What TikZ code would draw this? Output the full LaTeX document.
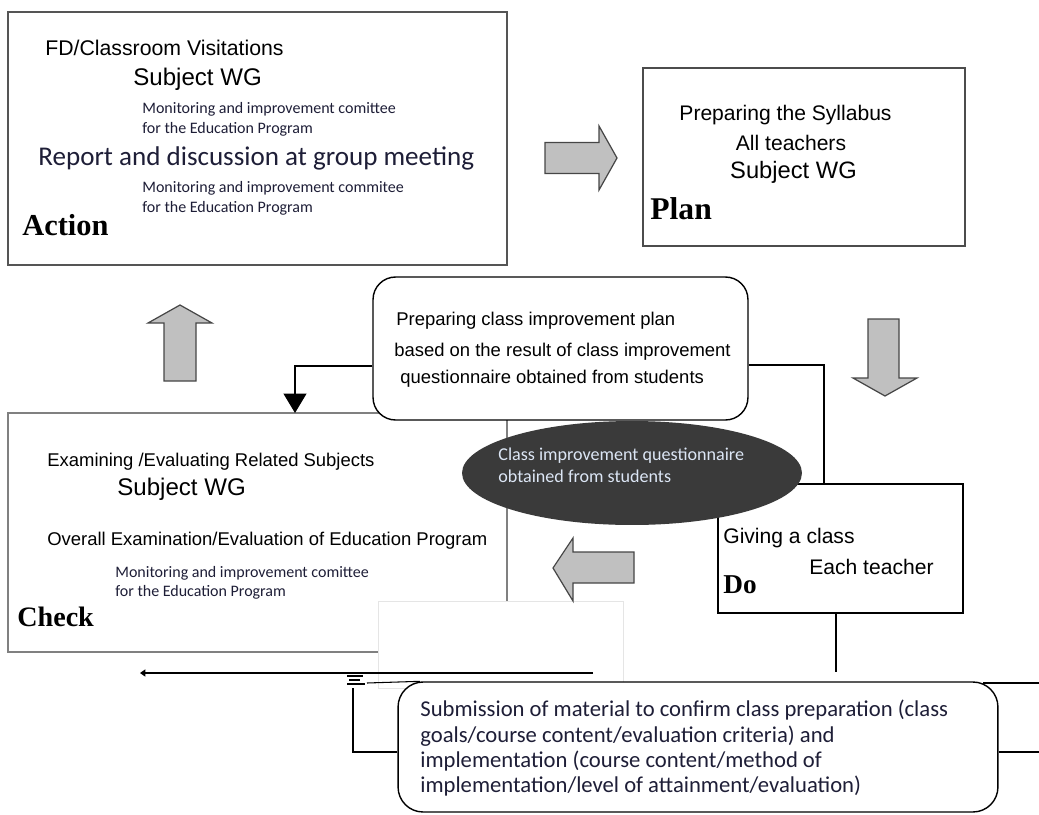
\documentclass[tikz,border=0pt]{standalone}
\usepackage{fontspec}
\setmainfont{Liberation Sans}
\newfontfamily\calfont{Carlito}
\newfontfamily\labfont{Liberation Serif}
\usetikzlibrary{arrows.meta,shapes.geometric}

\definecolor{framegray}{RGB}{85,85,85}
\definecolor{arrowfill}{RGB}{192,192,192}
\definecolor{arrowline}{RGB}{70,70,70}
\definecolor{navytext}{RGB}{30,30,55}
\definecolor{ovalfill}{RGB}{58,58,58}
\definecolor{ovaltext}{RGB}{220,230,245}

\begin{document}
\begin{tikzpicture}[x=0.02cm,y=-0.02cm,
    phase_box/.style={draw=framegray,line width=1.1pt,fill=white,inner sep=0},
    round_box/.style={draw=black,line width=0.8pt,fill=white,rounded corners=0.45cm,inner sep=0},
    oval/.style={ellipse,fill=ovalfill,inner sep=0},
    block_arrow/.style={draw=arrowline,line width=0.7pt,fill=arrowfill},
    link/.style={black,line width=0.6pt},
    phase_label/.style={font=\labfont\bfseries\fontsize{16}{16}\selectfont,anchor=base west,inner sep=0},
    plain_text/.style={font=\fontsize{10.5}{12}\selectfont,anchor=base west,inner sep=0},
    group_text/.style={font=\fontsize{13.7}{15}\selectfont,anchor=base west,inner sep=0},
    small_note/.style={font=\calfont\fontsize{9.1}{11.3}\selectfont,text=navytext,anchor=base west,inner sep=0}]
  \useasboundingbox (0,0) rectangle (1039,815);

  % four phase boxes
  \node[phase_box,minimum width=9.98cm,minimum height=5.06cm] (action) at (257.5,138.5) {};
  \node[phase_box,draw=black!70,minimum width=6.44cm,minimum height=3.56cm] (plan) at (804,157) {};
  \node[phase_box,draw=black!50,minimum width=9.98cm,minimum height=4.78cm] (check) at (257.5,532.5) {};
  \node[phase_box,draw=black,line width=0.8pt,minimum width=4.9cm,minimum height=2.58cm] (do) at (840.5,548.5) {};
  \node[fill=white,draw=black!10,line width=0.5pt,minimum width=4.9cm,minimum height=1.74cm] (panel) at (500.5,644.5) {};

  % Action
  \node[plain_text,font=\fontsize{12.1}{13}\selectfont] (fd) at (45,55) {FD/Classroom Visitations};
  \node[group_text] (wg1) at (133,85) {Subject WG};
  \node[small_note] (mon1) at (142,113) {Monitoring and improvement comittee};
  \node[small_note] (prog1) at (142,133) {for the Education Program};
  \node[anchor=base west,inner sep=0,text=navytext,font=\calfont\fontsize{15.4}{17}\selectfont] (report) at (38,165) {Report and discussion at group meeting};
  \node[small_note] (mon2) at (142,192) {Monitoring and improvement commitee};
  \node[small_note] (prog2) at (142,212) {for the Education Program};
  \node[phase_label,font=\labfont\bfseries\fontsize{17.3}{17}\selectfont] (lact) at (22,235) {Action};

  % Plan
  \node[plain_text,font=\fontsize{12}{13}\selectfont,anchor=base] (syl) at (785.5,120) {Preparing the Syllabus};
  \node[plain_text,font=\fontsize{12}{13}\selectfont,anchor=base] (allt) at (791,150) {All teachers};
  \node[group_text,font=\fontsize{13.5}{15}\selectfont,anchor=base] (wg2) at (793.5,178) {Subject WG};
  \node[phase_label,font=\labfont\bfseries\fontsize{18}{18}\selectfont] (lplan) at (650,219) {Plan};

  % Check
  \node[plain_text] (exam) at (47,466) {Examining /Evaluating Related Subjects};
  \node[group_text] (wg3) at (117,495) {Subject WG};
  \node[plain_text] (overall) at (47,545) {Overall Examination/Evaluation of Education Program};
  \node[small_note] (mon3) at (115,577) {Monitoring and improvement comittee};
  \node[small_note] (prog3) at (115,596) {for the Education Program};
  \node[phase_label] (lchk) at (17,626) {Check};

  % block arrows
  \draw[block_arrow] (545,142.5) -- (599,142.5) -- (599,126) -- (617,158) -- (599,190) -- (599,173.5) -- (545,173.5) -- cycle;
  \draw[block_arrow] (868,319) -- (899,319) -- (899,378) -- (917,378) -- (885,396) -- (853,378) -- (868,378) -- cycle;
  \draw[block_arrow] (634,552) -- (573,552) -- (573,538) -- (553,568) -- (573,601) -- (573,583) -- (634,583) -- cycle;
  \draw[block_arrow] (164,381) -- (164,323) -- (148,323) -- (180,305) -- (212,323) -- (196,323) -- (196,381) -- cycle;

  % class improvement plan
  \node[round_box,minimum width=7.5cm,minimum height=2.86cm] (improve) at (560.5,348.5) {};
  \node[plain_text] (imp1) at (396,325) {Preparing class improvement plan};
  \node[plain_text] (imp2) at (394,356) {based on the result of class improvement};
  \node[plain_text] (imp3) at (400,383) {questionnaire obtained from students};
  \coordinate (chk in) at (295,413);
  \coordinate (do in) at (824,484);
  \draw[link,-{Triangle[length=11pt,width=13pt]}] (improve.west) ++(0,17.5) -| (chk in);
  \draw[link] (improve.east) ++(0,16.5) -| (do in);

  % Do
  \node[plain_text,font=\fontsize{12}{13}\selectfont] (give) at (723,543) {Giving a class};
  \node[plain_text,font=\fontsize{12}{13}\selectfont] (each) at (809,574) {Each teacher};
  \node[phase_label,font=\labfont\bfseries\fontsize{15.5}{16}\selectfont] (ldo) at (723,593) {Do};

  % questionnaire
  \node[oval,minimum width=6.8cm,minimum height=2.08cm] (quest) at (632,473) {};
  \node[small_note,text=ovaltext,font=\calfont\fontsize{10.3}{12}\selectfont] (q1) at (498,460) {Class improvement questionnaire};
  \node[small_note,text=ovaltext,font=\calfont\fontsize{10.3}{12}\selectfont] (q2) at (498,482) {obtained from students};

  % submission of material
  \coordinate (do out) at (836,672);
  \coordinate (ret a) at (593,673);
  \coordinate (ret b) at (140,673);
  \draw[link] (do.south -| do out) -- (do out);
  \draw[link,-{Triangle[length=3pt,width=4pt]}] (ret a) -- (ret b);
  \draw[link] (347,676) -- (363,676) (349,680) -- (360,680) (347,684) -- (365,684);
  \node[round_box,rounded corners=0.5cm,minimum width=12cm,minimum height=2.6cm] (submit) at (698,747) {};
  \node[anchor=north west,inner sep=0,align=left,text=navytext,font=\calfont\fontsize{12.9}{14.4}\selectfont] (subtext) at (420,700)
    {Submission of material to confirm class preparation (class\\goals/course content/evaluation criteria) and\\implementation (course content/method of\\implementation/level of attainment/evaluation)};
  \coordinate (side l) at (353,688);
  \coordinate (side r) at (1039,752);
  \coordinate (top l) at (367,683);
  \coordinate (top r) at (1039,683);
  \draw[link] (submit.west |- side r) -| (side l);
  \draw[link] (top l) -- (submit.north west -| 420,0);
  \draw[link] (submit.east |- side r) -- (side r);
  \draw[black,line width=1.2pt] (983,683) -- (top r);
\end{tikzpicture}
\end{document}
